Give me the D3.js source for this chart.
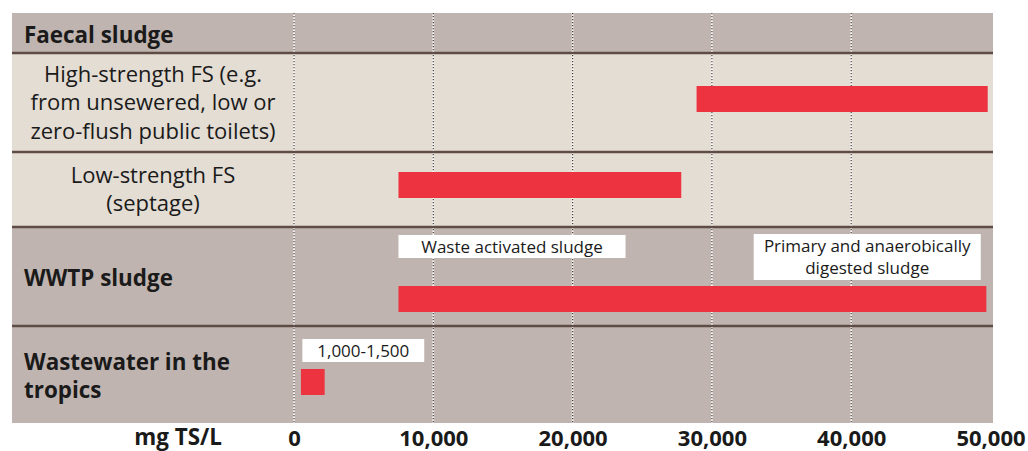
<!DOCTYPE html>
<html>
<head>
<meta charset="utf-8">
<script src="https://cdn.jsdelivr.net/npm/d3@7"></script>
<style>
  body { margin: 0; background: #fff; }
  svg { display: block; font-family: "Open Sans", "Noto Sans", sans-serif; }
</style>
</head>
<body>
<script>
// categories (rows, top to bottom)
const rowNames = ["Faecal sludge", "High-strength FS", "Low-strength FS", "WWTP sludge", "Wastewater in the tropics"];
const rowLabels = [
  ["Faecal sludge"],
  ["High-strength FS (e.g.", "from unsewered, low or", "zero-flush public toilets)"],
  ["Low-strength FS", "(septage)"],
  ["WWTP sludge"],
  ["Wastewater in the", "tropics"]
];
const rowBold = [true, false, false, true, true];
const rowShade = ["dark", "light", "light", "dark", "dark"];

// ranges in mg TS/L
const barRows = ["High-strength FS", "Low-strength FS", "WWTP sludge", "Wastewater in the tropics"];
const barStart = [28900, 7500, 7500, 500];
const barEnd = [49800, 27800, 49700, 2200];

// annotations
const noteRows = ["WWTP sludge", "WWTP sludge", "Wastewater in the tropics"];
const noteText = [["Waste activated sludge"], ["Primary and anaerobically", "digested sludge"], ["1,000-1,500"]];
const noteStart = [7500, 33000, 600];
const noteEnd = [23800, 49300, 9350];

const tickValues = [0, 10000, 20000, 30000, 40000, 50000];
const axisTitle = "mg TS/L";

// layout
const width = 1028, height = 451;
const panelLeft = 12, panelRight = 993, panelTop = 13;
const rowHeights = [40, 99, 75, 99, 97];
const barOffset = [null, 33, 20, 59, 43]; // bar top relative to row top
const barH = 26;
const colors = { dark: "#bfb4af", light: "#e3ddd4", sep: "#5e4c45", bar: "#ee3340", grid: "#4a3b36", text: "#1a1a1a" };

const rowTops = [];
rowHeights.reduce((acc, h) => { rowTops.push(acc); return acc + h; }, panelTop);
const panelBottom = panelTop + d3.sum(rowHeights);

const x = d3.scaleLinear().domain([0, 50000]).range([294, 990.5]);

const svg = d3.select("body").append("svg")
  .attr("width", width)
  .attr("height", height);

// row backgrounds
svg.append("g").selectAll("rect")
  .data(rowNames)
  .join("rect")
  .attr("x", panelLeft)
  .attr("y", (d, i) => rowTops[i])
  .attr("width", panelRight - panelLeft)
  .attr("height", (d, i) => rowHeights[i])
  .attr("fill", (d, i) => colors[rowShade[i]]);

// dotted gridlines
const grid = svg.append("g");
grid.selectAll("line.w")
  .data(tickValues.slice(0, 5))
  .join("line")
  .attr("class", "w")
  .attr("x1", d => x(d)).attr("x2", d => x(d))
  .attr("y1", panelTop).attr("y2", panelBottom)
  .attr("stroke", "#fff")
  .attr("stroke-width", 1.6);
grid.selectAll("line.d")
  .data(tickValues.slice(0, 5))
  .join("line")
  .attr("class", "d")
  .attr("x1", d => x(d)).attr("x2", d => x(d))
  .attr("y1", panelTop).attr("y2", panelBottom)
  .attr("stroke", colors.grid)
  .attr("stroke-width", 1.2)
  .attr("stroke-dasharray", "1.3,1.7");

// separators
svg.append("g").selectAll("line")
  .data(rowNames.slice(1))
  .join("line")
  .attr("x1", panelLeft).attr("x2", panelRight)
  .attr("y1", (d, i) => rowTops[i + 1])
  .attr("y2", (d, i) => rowTops[i + 1])
  .attr("stroke", colors.sep)
  .attr("stroke-width", 2.6);

// row labels
const labels = svg.append("g").attr("fill", colors.text);
rowLabels.forEach((lines, i) => {
  const bold = rowBold[i];
  const lh = 28.5;
  const cy = rowTops[i] + rowHeights[i] / 2 + (bold ? 2 : 0);
  const t = labels.append("text")
    .attr("x", bold ? 24 : 153)
    .attr("text-anchor", bold ? "start" : "middle")
    .attr("font-size", bold ? 22.4 : 22)
    .attr("font-weight", bold ? 700 : 400);
  lines.forEach((ln, j) => {
    t.append("tspan")
      .attr("x", bold ? 24 : 153)
      .attr("y", cy + (j - (lines.length - 1) / 2) * lh + 7.5)
      .text(ln);
  });
});

// bars
const rowIndex = name => rowNames.indexOf(name);
svg.append("g").selectAll("rect")
  .data(barRows)
  .join("rect")
  .attr("x", (d, i) => x(barStart[i]))
  .attr("width", (d, i) => x(barEnd[i]) - x(barStart[i]))
  .attr("y", d => rowTops[rowIndex(d)] + barOffset[rowIndex(d)])
  .attr("height", barH)
  .attr("fill", colors.bar);

// annotation boxes
const notes = svg.append("g");
noteRows.forEach((r, i) => {
  const lines = noteText[i];
  const top = rowTops[rowIndex(r)] + (lines.length > 1 ? 7 : 8 + (rowIndex(r) === 4 ? 5 : 0));
  const h = lines.length > 1 ? 46 : 23;
  notes.append("rect")
    .attr("x", x(noteStart[i]))
    .attr("y", top)
    .attr("width", x(noteEnd[i]) - x(noteStart[i]))
    .attr("height", h)
    .attr("fill", "#fff");
  const cx = (x(noteStart[i]) + x(noteEnd[i])) / 2;
  const t = notes.append("text")
    .attr("text-anchor", "middle")
    .attr("font-size", 17)
    .attr("fill", colors.text);
  lines.forEach((ln, j) => {
    t.append("tspan").attr("x", cx).attr("y", top + 17.5 + j * 22).text(ln);
  });
});

// axis
const axis = svg.append("g")
  .attr("transform", `translate(0,${panelBottom})`)
  .call(d3.axisBottom(x).tickValues(tickValues).tickFormat(d3.format(",")).tickSize(0));
axis.select(".domain").remove();
axis.selectAll("text")
  .attr("font-size", 22)
  .attr("font-weight", 700)
  .attr("font-family", "'Open Sans', 'Noto Sans', sans-serif")
  .attr("fill", colors.text)
  .attr("y", 446 - panelBottom)
  .attr("dy", null);

svg.append("text")
  .attr("x", 222)
  .attr("y", 445)
  .attr("text-anchor", "end")
  .attr("font-size", 22.4)
  .attr("font-weight", 700)
  .attr("fill", colors.text)
  .text(axisTitle);
</script>
</body>
</html>
